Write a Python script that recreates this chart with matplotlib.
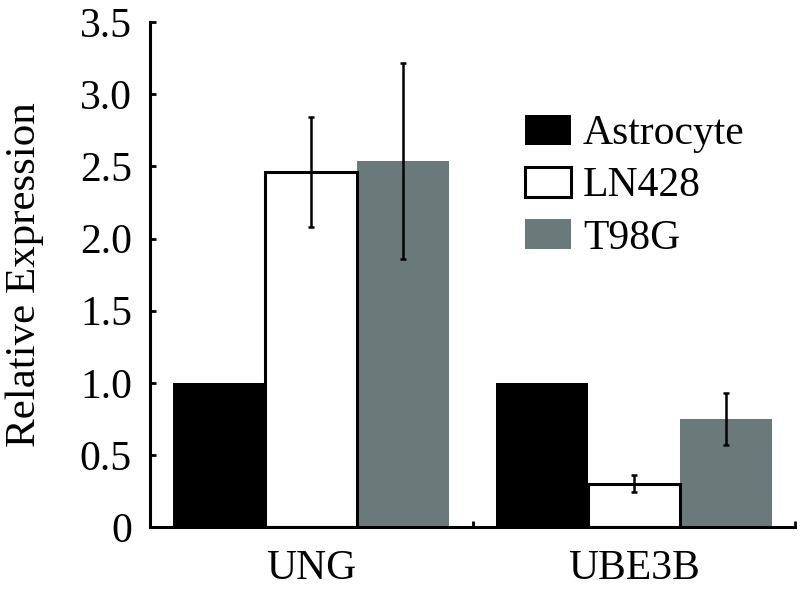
import matplotlib.pyplot as plt
import numpy as np

# Data
genes = ["UNG", "UBE3B"]
cell_lines = ["Astrocyte", "LN428", "T98G"]
astrocyte = [1.0, 1.0]
ln428 = [2.46, 0.30]
ln428_err = [0.38, 0.06]
t98g = [2.54, 0.75]
t98g_err = [0.68, 0.18]
yticks = [0, 0.5, 1.0, 1.5, 2.0, 2.5, 3.0, 3.5]
ytick_labels = ["0", "0.5", "1.0", "1.5", "2.0", "2.5", "3.0", "3.5"]

plt.rcParams['font.family'] = ['Liberation Serif', 'DejaVu Serif']

fig = plt.figure(figsize=(8, 5.98), dpi=100)
ax = fig.add_axes([0.1875, 0.1187, 0.8065, 0.8443])

x = np.arange(len(genes))
w = 0.285
gray = "#6a7a7a"

ax.bar(x - w, astrocyte, w, color="black", label=cell_lines[0])
ax.bar(x, ln428, w, color="white", edgecolor="black", linewidth=2.2,
       label=cell_lines[1], zorder=2)
ax.bar(x + w, t98g, w, color=gray, label=cell_lines[2], zorder=1)
ax.errorbar(x, ln428, yerr=ln428_err, fmt="none", ecolor="black",
            elinewidth=1.8, capsize=2.5, capthick=1.8, zorder=3)
ax.errorbar(x + w, t98g, yerr=t98g_err, fmt="none", ecolor="black",
            elinewidth=1.8, capsize=2.5, capthick=1.8, zorder=3)

ax.set_xlim(-0.5, 1.5)
ax.set_ylim(0, 3.5)
ax.set_yticks(yticks)
ax.set_yticklabels(ytick_labels)
ax.set_xticks([-0.5, 0.5, 1.5])
ax.set_xticklabels([])
ax.set_xticks(x, minor=True)
ax.set_xticklabels(genes, minor=True)
ax.tick_params(axis="x", which="minor", length=0, pad=16, labelsize=30)
ax.tick_params(axis="x", which="major", direction="in", length=4, width=2)
ax.tick_params(axis="y", direction="in", length=4, width=2, labelsize=30, pad=13)

for side in ["top", "right"]:
    ax.spines[side].set_visible(False)
for side in ["left", "bottom"]:
    ax.spines[side].set_linewidth(2.2)

ax.set_ylabel("Relative Expression", fontsize=31, labelpad=26)

leg = ax.legend(loc="upper left", bbox_to_anchor=(0.555, 0.85), frameon=False,
                fontsize=30, handlelength=1.1, handleheight=0.75,
                handletextpad=0.3, labelspacing=0.32, borderaxespad=0)

fig.savefig("out.png", dpi=100)
